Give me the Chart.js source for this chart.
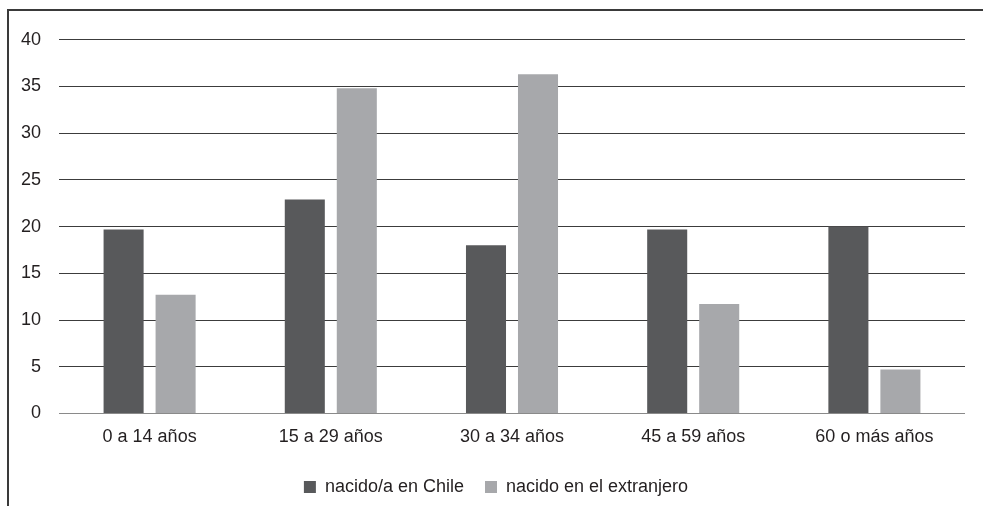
<!DOCTYPE html>
<html>
<head>
<meta charset="utf-8">
<script src="https://cdn.jsdelivr.net/npm/chart.js@4/dist/chart.umd.min.js"></script>
<style>
  html, body { margin: 0; padding: 0; background: #fff; }
  #frame {
    position: absolute; left: 7px; top: 9px;
    width: 974px; height: 497px;
    border-top: 2px solid #3a3a3a; border-left: 2px solid #3a3a3a;
  }
  #wrap { position: absolute; left: 0; top: 0; width: 974px; height: 497px; }
</style>
</head>
<body>
<div id="frame"><div id="wrap"><canvas id="chart"></canvas></div></div>
<script>
const categories = ['0 a 14 años', '15 a 29 años', '30 a 34 años', '45 a 59 años', '60 o más años'];
const nacidoChile = [19.7, 22.9, 18.0, 19.7, 20.0];
const nacidoExtranjero = [12.7, 34.8, 36.3, 11.7, 4.7];
const yTicks = [0, 5, 10, 15, 20, 25, 30, 35, 40];

const font = { family: '"Liberation Sans", Arial, sans-serif', size: 18 };
const textColor = '#231f20';

const ctx = document.getElementById('chart').getContext('2d');
new Chart(ctx, {
  type: 'bar',
  data: {
    labels: categories,
    datasets: [
      { label: 'nacido/a en Chile', data: nacidoChile, backgroundColor: '#58595b' },
      { label: 'nacido en el extranjero', data: nacidoExtranjero, backgroundColor: '#a7a8ab' }
    ]
  },
  options: {
    responsive: true,
    maintainAspectRatio: false,
    animation: false,
    categoryPercentage: 0.574,
    barPercentage: 0.77,
    layout: { padding: { top: 25, right: 0, bottom: 2, left: 0 } },
    plugins: {
      tooltip: { enabled: false },
      legend: {
        position: 'bottom',
        labels: {
          font: font,
          color: textColor,
          boxWidth: 12,
          boxHeight: 12,
          padding: 21
        }
      }
    },
    scales: {
      x: {
        afterFit: axis => { axis.height += 4; },
        grid: { display: false },
        border: { display: false },
        ticks: { font: font, color: textColor, padding: 5 }
      },
      y: {
        min: 0,
        max: 40,
        afterFit: axis => { axis.width = 50; },
        afterBuildTicks: axis => { axis.ticks = yTicks.map(v => ({ value: v })); },
        border: { display: false },
        grid: {
          drawTicks: false,
          lineWidth: 1,
          color: c => c.tick.value === 0 ? '#8a8a8a' : '#3c3c3c'
        },
        ticks: { font: font, color: textColor, padding: 18 }
      },
      // empty right margin so the legend stays centred on the whole frame
      yRight: {
        position: 'right',
        afterFit: axis => { axis.width = 18; },
        border: { display: false },
        grid: { display: false },
        ticks: { display: false }
      }
    }
  }
});
</script>
</body>
</html>
